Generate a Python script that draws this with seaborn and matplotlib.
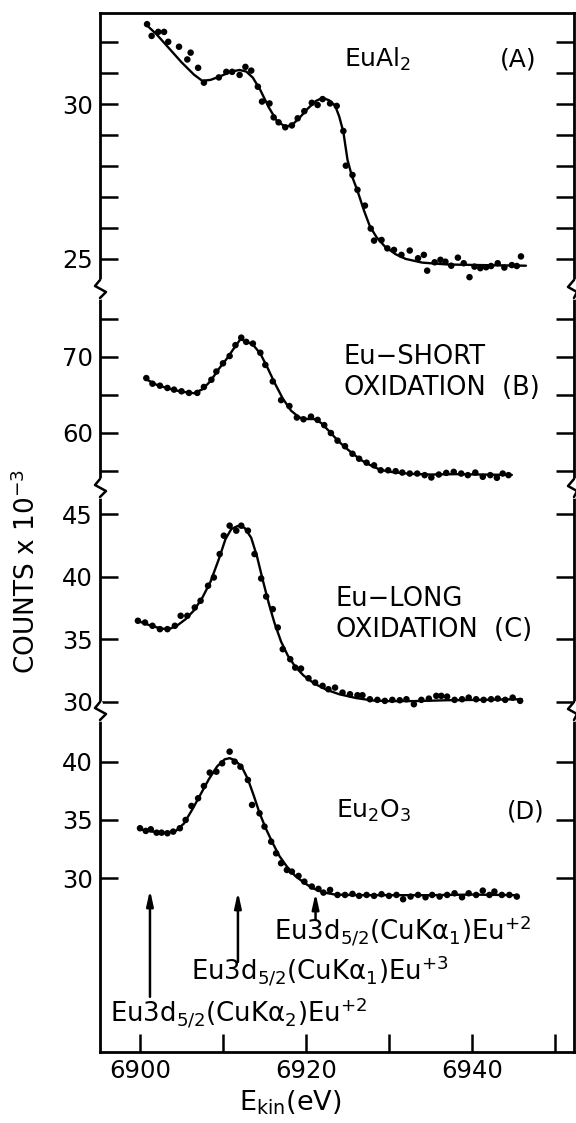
import matplotlib
matplotlib.use("Agg")
import matplotlib.pyplot as plt
import seaborn as sns
from matplotlib.lines import Line2D

# ---------------- data (counts x 10^-3 vs kinetic energy, eV) ----------------
a_dot_E = [6900.85, 6901.4, 6902.2, 6902.9, 6903.4, 6904.7, 6905.7, 6906.1, 6907.0, 6907.7,
           6909.5, 6910.4, 6911.1, 6912.0, 6912.7, 6913.4, 6914.2, 6914.7, 6915.6, 6916.1,
           6916.7, 6917.5, 6918.3, 6919.0, 6919.8, 6920.7, 6921.4, 6922.0, 6922.9, 6923.7,
           6924.5, 6924.8, 6925.6, 6926.2, 6927.1, 6927.8, 6928.2, 6929.1, 6929.8, 6930.6,
           6931.5, 6932.5, 6933.5, 6934.2, 6934.6, 6935.5, 6936.2, 6936.8, 6937.5, 6938.3,
           6939.0, 6939.7, 6940.3, 6941.0, 6941.7, 6942.3, 6943.1, 6943.9, 6944.8, 6945.4, 6945.9]
a_dot_counts = [32.58, 32.20, 32.33, 32.33, 32.01, 31.85, 31.44, 31.66, 31.17, 30.69,
                30.86, 31.04, 31.04, 30.94, 31.20, 31.08, 30.56, 30.08, 30.02, 29.57,
                29.41, 29.25, 29.31, 29.54, 29.77, 30.04, 29.97, 30.16, 30.02, 29.94,
                29.13, 28.01, 27.71, 27.23, 26.72, 25.98, 25.59, 25.61, 25.34, 25.29,
                25.13, 25.27, 25.02, 25.13, 24.62, 24.89, 24.97, 24.91, 24.78, 25.04,
                24.86, 24.41, 24.75, 24.70, 24.73, 24.77, 24.86, 24.72, 24.80, 24.77, 25.08]
a_fit_E = [6900.8, 6902.0, 6903.5, 6905.0, 6906.5, 6907.5, 6908.5, 6909.7, 6911.0, 6912.0,
           6912.8, 6913.6, 6914.5, 6915.5, 6916.5, 6917.5, 6918.3, 6919.2, 6920.2, 6921.2,
           6922.0, 6922.8, 6923.5, 6924.0, 6924.5, 6925.0, 6925.5, 6926.2, 6927.0, 6927.7,
           6928.5, 6929.5, 6930.8, 6932.0, 6934.0, 6937.0, 6941.0, 6946.5]
a_fit_counts = [32.55, 32.25, 31.8, 31.35, 30.95, 30.75, 30.78, 30.9, 31.05, 31.1,
                31.05, 30.85, 30.45, 29.9, 29.45, 29.27, 29.32, 29.55, 29.85, 30.1,
                30.2, 30.12, 29.95, 29.6, 29.1, 28.2, 27.7, 27.2, 26.55, 26.05,
                25.7, 25.4, 25.15, 25.0, 24.88, 24.82, 24.8, 24.78]

b_dot_E = [6900.76, 6901.5, 6902.4, 6903.3, 6904.1, 6905.0, 6905.9, 6906.9, 6907.7, 6908.6,
           6909.2, 6910.0, 6910.8, 6911.5, 6912.2, 6912.8, 6913.6, 6914.5, 6915.1, 6916.0,
           6917.0, 6918.0, 6918.9, 6919.7, 6920.6, 6921.4, 6922.2, 6923.0, 6923.8, 6924.7,
           6925.6, 6926.4, 6927.3, 6928.2, 6929.0, 6929.9, 6930.8, 6931.6, 6932.5, 6933.4,
           6934.3, 6935.1, 6936.0, 6936.9, 6937.8, 6938.7, 6939.5, 6940.4, 6941.3, 6942.2,
           6943.0, 6943.7, 6944.4]
b_dot_counts = [67.19, 66.45, 66.19, 65.89, 65.67, 65.45, 65.24, 65.24, 66.02, 66.97,
                68.05, 69.13, 70.09, 71.52, 72.51, 71.95, 71.73, 70.52, 68.92, 66.75,
                64.29, 63.51, 62.0, 61.77, 62.12, 61.69, 61.0, 59.96, 58.96, 58.23,
                57.23, 56.58, 56.06, 55.71, 55.06, 55.06, 54.94, 54.76, 54.63, 54.63,
                54.42, 54.11, 54.50, 54.72, 54.85, 54.63, 54.42, 54.76, 54.20, 54.42,
                54.07, 54.63, 54.42]
b_fit_E = [6900.8, 6902.0, 6903.5, 6905.0, 6906.5, 6907.5, 6908.5, 6909.5, 6910.5, 6911.5,
           6912.1, 6912.8, 6913.6, 6914.5, 6915.3, 6916.2, 6917.2, 6918.2, 6919.2, 6920.2,
           6921.0, 6921.8, 6922.8, 6923.8, 6924.8, 6925.8, 6926.8, 6927.8, 6929.0, 6930.5,
           6932.5, 6935.0, 6938.0, 6941.0, 6944.8]
b_fit_counts = [67.0, 66.3, 65.8, 65.4, 65.2, 65.7, 66.8, 68.4, 69.8, 71.4,
                72.3, 72.0, 71.6, 70.4, 68.7, 66.6, 64.5, 62.9, 62.0, 61.8,
                61.8, 61.3, 60.2, 59.0, 58.0, 57.1, 56.3, 55.7, 55.1, 54.8,
                54.6, 54.5, 54.55, 54.5, 54.45]

c_dot_E = [6899.75, 6900.6, 6901.5, 6902.4, 6903.3, 6904.2, 6904.9, 6905.7, 6906.6, 6907.3,
           6908.2, 6908.9, 6909.6, 6910.1, 6910.8, 6911.6, 6912.2, 6913.0, 6913.8, 6914.6,
           6915.2, 6916.0, 6916.6, 6917.2, 6918.1, 6918.7, 6919.4, 6920.3, 6921.1, 6922.0,
           6922.7, 6923.5, 6924.4, 6925.3, 6926.2, 6926.8, 6927.7, 6928.6, 6929.5, 6930.4,
           6931.3, 6932.1, 6933.0, 6933.9, 6934.8, 6935.7, 6936.3, 6937.0, 6937.9, 6938.8,
           6939.6, 6940.5, 6941.4, 6942.3, 6943.1, 6944.0, 6944.9, 6945.8]
c_dot_counts = [36.47, 36.33, 36.07, 35.8, 35.8, 36.07, 36.87, 36.87, 37.53, 38.07,
                39.27, 39.93, 41.8, 43.27, 44.07, 43.67, 44.07, 43.67, 41.8, 39.85,
                38.41, 37.4, 35.93, 34.2, 33.4, 32.73, 32.65, 31.88, 31.53, 31.27,
                31.0, 31.13, 30.73, 30.6, 30.52, 30.52, 30.2, 30.15, 30.07, 30.15,
                30.12, 30.2, 29.8, 30.15, 30.25, 30.47, 30.47, 30.41, 30.15, 30.2,
                30.33, 30.2, 30.15, 30.2, 30.25, 30.15, 30.33, 30.07]
c_fit_E = [6899.75, 6901.0, 6902.5, 6903.5, 6904.5, 6905.5, 6906.5, 6907.5, 6908.5, 6909.5,
           6910.3, 6911.0, 6911.8, 6912.6, 6913.4, 6914.1, 6914.8, 6915.5, 6916.2, 6917.0,
           6917.8, 6918.7, 6919.7, 6921.0, 6922.5, 6924.0, 6926.0, 6928.0, 6930.0, 6933.0,
           6937.0, 6941.0, 6946.0]
c_fit_counts = [36.45, 36.15, 35.85, 35.8, 36.1, 36.6, 37.3, 38.3, 39.6, 41.4,
                43.0, 43.8, 44.05, 43.9, 43.1, 41.6, 39.7, 37.9, 36.3, 34.8,
                33.7, 32.8, 32.1, 31.45, 30.95, 30.6, 30.3, 30.1, 30.05, 30.05,
                30.12, 30.15, 30.2]

d_dot_E = [6900.0, 6900.7, 6901.3, 6902.0, 6902.6, 6903.3, 6904.0, 6904.8, 6905.5, 6906.2,
           6907.0, 6907.7, 6908.4, 6909.2, 6909.9, 6910.8, 6911.4, 6912.1, 6913.0, 6913.5,
           6914.4, 6915.0, 6915.8, 6916.4, 6917.0, 6917.7, 6918.3, 6919.1, 6919.8, 6920.7,
           6921.5, 6922.1, 6922.9, 6923.8, 6924.7, 6925.6, 6926.4, 6927.3, 6928.2, 6929.1,
           6930.0, 6930.9, 6931.7, 6932.6, 6933.5, 6934.4, 6935.2, 6936.1, 6937.0, 6937.9,
           6938.8, 6939.6, 6940.5, 6941.3, 6942.1, 6942.7, 6943.6, 6944.5, 6945.4]
d_dot_counts = [34.29, 34.06, 34.2, 33.91, 33.91, 33.86, 34.0, 34.29, 35.0, 36.2,
                36.86, 37.91, 39.06, 39.14, 39.86, 40.86, 40.0, 39.57, 38.43, 36.29,
                35.57, 34.43, 33.14, 32.14, 31.29, 30.71, 30.57, 30.2, 29.71, 29.29,
                29.09, 28.77, 29.0, 28.57, 28.57, 28.66, 28.49, 28.57, 28.49, 28.63,
                28.49, 28.57, 28.2, 28.43, 28.57, 28.37, 28.57, 28.43, 28.57, 28.71,
                28.37, 28.71, 28.57, 28.94, 28.57, 28.86, 28.57, 28.57, 28.43]
d_fit_E = [6900.0, 6901.5, 6903.0, 6904.3, 6905.3, 6906.3, 6907.3, 6908.3, 6909.3, 6910.2,
           6910.8, 6911.5, 6912.3, 6913.0, 6913.7, 6914.4, 6915.2, 6916.0, 6916.8, 6917.7,
           6918.7, 6919.8, 6920.8, 6922.0, 6923.5, 6926.0, 6930.0, 6935.0, 6940.0, 6945.4]
d_fit_counts = [34.2, 34.0, 33.9, 34.05, 34.7, 35.9, 37.2, 38.5, 39.6, 40.2,
                40.3, 40.1, 39.5, 38.5, 37.1, 35.6, 34.2, 33.0, 31.9, 31.0,
                30.2, 29.6, 29.15, 28.8, 28.6, 28.55, 28.55, 28.55, 28.6, 28.55]

# y ticks of each segment and their labels
a_ticks = [25, 26, 27, 28, 29, 30, 31, 32]
a_labels = ["25", "", "", "", "", "30", "", ""]
b_ticks = [55, 60, 65, 70, 75]
b_labels = ["", "60", "", "70", ""]
c_ticks = [30, 35, 40, 45]
c_labels = ["30", "35", "40", "45"]
d_ticks = [30, 35, 40]
d_labels = ["30", "35", "40"]
x_ticks = [6900, 6910, 6920, 6930, 6940, 6950]
x_labels = ["6900", "", "6920", "", "6940", ""]

panel_names = [r"EuAl$_2$", "Eu\u2212SHORT\nOXIDATION  (B)", "Eu\u2212LONG\nOXIDATION  (C)", r"Eu$_2$O$_3$"]

# arrows marking peak positions (energy, tip counts, tail counts) in segment D
arrow_E = [6901.2, 6911.8, 6921.15]
arrow_tip = [29.0, 28.83, 28.74]
arrow_tail = [19.83, 22.82, 26.43]
arrow_texts = [r"Eu3d$_{5/2}$(CuK$\alpha_2$)Eu$^{+2}$",
               r"Eu3d$_{5/2}$(CuK$\alpha_1$)Eu$^{+3}$",
               r"Eu3d$_{5/2}$(CuK$\alpha_1$)Eu$^{+2}$"]

# ---------------- figure ----------------
sns.set_style("white")
plt.rcParams["font.family"] = ["DejaVu Sans"]
plt.rcParams["mathtext.default"] = "regular"
plt.rcParams["text.color"] = "black"

W, H = 576, 1123
fig = plt.figure(figsize=(W / 100, H / 100), dpi=100)


def fx(px):
    return px / W


def fy(py):
    return 1 - py / H


LEFT, RIGHT = 100, 574
bounds = [13, 288, 487, 710, 1052]
ylims = [(24.06, 32.94), (52.86, 79.04), (29.34, 47.16), (15.1, 44.43)]
XLIM = (6895.18, 6952.29)

series = [(a_dot_E, a_dot_counts, a_fit_E, a_fit_counts, a_ticks, a_labels),
          (b_dot_E, b_dot_counts, b_fit_E, b_fit_counts, b_ticks, b_labels),
          (c_dot_E, c_dot_counts, c_fit_E, c_fit_counts, c_ticks, c_labels),
          (d_dot_E, d_dot_counts, d_fit_E, d_fit_counts, d_ticks, d_labels)]

axes = []
for i, (dE, dC, fE, fC, ticks, labels) in enumerate(series):
    top, bot = bounds[i], bounds[i + 1]
    ax = fig.add_axes([fx(LEFT), fy(bot), fx(RIGHT) - fx(LEFT), (bot - top) / H])
    ax.set_facecolor("none")
    sns.lineplot(x=fE, y=fC, ax=ax, color="black", lw=1.7, sort=False, estimator=None)
    sns.scatterplot(x=dE, y=dC, ax=ax, color="black", s=22, edgecolor="none", linewidth=0)
    ax.set_xlim(*XLIM)
    ax.set_ylim(*ylims[i])
    ax.set_yticks(ticks)
    ax.set_yticklabels(labels)
    ax.set_xlabel("")
    ax.set_ylabel("")
    for side in ["left", "right", "top", "bottom"]:
        ax.spines[side].set_color("black")
        ax.spines[side].set_linewidth(2.0)
    ax.spines["top"].set_visible(i == 0)
    ax.spines["bottom"].set_visible(i == 3)
    ax.tick_params(axis="y", which="both", direction="in", length=13, width=1.8,
                   left=True, right=True, labelleft=True, labelright=False,
                   labelsize=17.5, pad=5, colors="black")
    if i == 3:
        ax.set_xticks(x_ticks)
        ax.set_xticklabels(x_labels)
        ax.tick_params(axis="x", direction="in", length=13, width=1.8, bottom=True,
                       top=False, labelsize=17.5, pad=5, colors="black")
    else:
        ax.set_xticks([])
    axes.append(ax)

# segment labels
fig.text(fx(344), fy(67), panel_names[0], fontsize=18, va="baseline", ha="left")
fig.text(fx(500), fy(67), "(A)", fontsize=18, va="baseline", ha="left")
fig.text(fx(344), fy(395), panel_names[1], fontsize=18.5, va="baseline", ha="left",
         linespacing=1.25)
fig.text(fx(336), fy(637), panel_names[2], fontsize=18.5, va="baseline", ha="left",
         linespacing=1.25)
fig.text(fx(336), fy(818), panel_names[3], fontsize=18, va="baseline", ha="left")
fig.text(fx(507), fy(818), "(D)", fontsize=17.5, va="baseline", ha="left")

# arrows and their labels in segment D
axd = axes[3]
for e, tip, tail in zip(arrow_E, arrow_tip, arrow_tail):
    axd.annotate("", xy=(e, tip), xytext=(e, tail),
                 arrowprops=dict(arrowstyle="-|>,head_length=0.9,head_width=0.2",
                                 color="black", lw=1.8, shrinkA=0, shrinkB=0))
fig.text(fx(110), fy(1022), arrow_texts[0], fontsize=18.7, va="baseline", ha="left")
fig.text(fx(191), fy(980), arrow_texts[1], fontsize=18.7, va="baseline", ha="left")
fig.text(fx(274), fy(940), arrow_texts[2], fontsize=18.7, va="baseline", ha="left")

# axis titles
fig.text(fx(27), fy(572), r"COUNTS x 10$^{-3}$", rotation=90, fontsize=19,
         ha="center", va="center")
fig.text(fx(290), fy(1103), r"E$_{kin}$(eV)", fontsize=19.5, ha="center", va="center")

# axis-break marks on both vertical spines
for yb in bounds[1:4]:
    for xs, pts in [(LEFT, [(0, -8), (-5, -2), (6, 4), (0, 10)]),
                    (RIGHT, [(0, -8), (-6, -1), (3, 4), (0, 10)])]:
        fig.add_artist(Line2D([fx(xs), fx(xs)], [fy(yb - 7), fy(yb + 9)], color="white",
                              lw=3.5, transform=fig.transFigure, zorder=5))
        fig.add_artist(Line2D([fx(xs + dx) for dx, dy in pts],
                              [fy(yb + dy) for dx, dy in pts], color="black", lw=1.8,
                              transform=fig.transFigure, zorder=6))

fig.savefig("out.png", dpi=100, facecolor="white")
